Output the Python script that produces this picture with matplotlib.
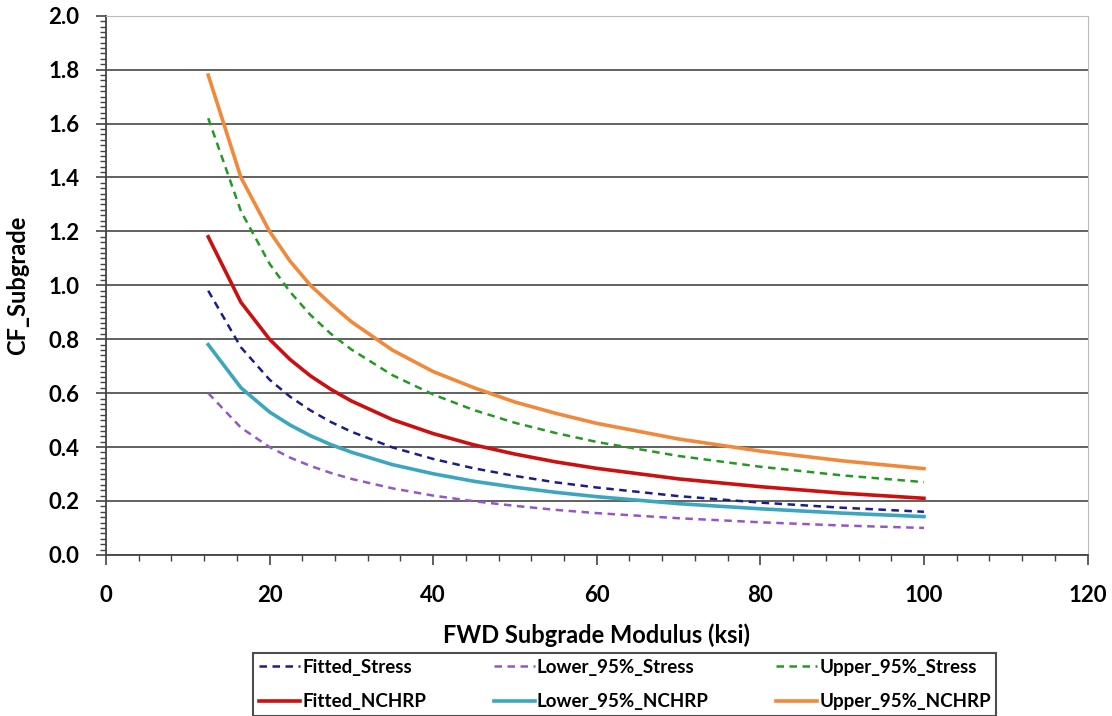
import matplotlib.pyplot as plt
from matplotlib.ticker import MultipleLocator

plt.rcParams['font.family'] = ['Lato', 'DejaVu Sans']

modulus = [12.5, 16.5, 20, 22.5, 25, 27.5, 30, 35, 40, 45, 50, 55, 60, 70, 80, 90, 100]

fitted_stress = [0.98, 0.77, 0.65, 0.587, 0.536, 0.493, 0.457, 0.399, 0.356, 0.321,
                 0.293, 0.269, 0.25, 0.218, 0.194, 0.175, 0.16]
lower_stress = [0.60, 0.472, 0.40, 0.361, 0.33, 0.304, 0.282, 0.247, 0.22, 0.199,
                0.182, 0.167, 0.155, 0.136, 0.121, 0.109, 0.10]
upper_stress = [1.62, 1.275, 1.08, 0.976, 0.89, 0.82, 0.762, 0.667, 0.595, 0.537,
                0.49, 0.452, 0.419, 0.367, 0.327, 0.295, 0.27]
fitted_nchrp = [1.18, 0.937, 0.80, 0.725, 0.664, 0.614, 0.571, 0.502, 0.45, 0.408,
                0.374, 0.345, 0.321, 0.282, 0.253, 0.229, 0.21]
lower_nchrp = [0.78, 0.62, 0.53, 0.482, 0.442, 0.409, 0.381, 0.335, 0.301, 0.273,
               0.251, 0.232, 0.216, 0.19, 0.171, 0.155, 0.142]
upper_nchrp = [1.78, 1.40, 1.20, 1.09, 1.00, 0.93, 0.865, 0.76, 0.68, 0.62,
               0.567, 0.525, 0.488, 0.43, 0.385, 0.349, 0.32]

fig = plt.figure(figsize=(11.12, 7.16), dpi=100)
fig.patch.set_facecolor('white')
ax = fig.add_axes([0.0953, 0.225, 0.8827, 0.753])

ax.yaxis.grid(True, color='#555555', linewidth=1.3)
ax.set_axisbelow(True)

dash = (3, 2.2)
ax.plot(modulus, fitted_stress, color='#1c1c8a', lw=1.8, dashes=dash, label='Fitted_Stress')
ax.plot(modulus, fitted_nchrp, color='#cc1010', lw=2.6, label='Fitted_NCHRP')
ax.plot(modulus, lower_stress, color='#9457c8', lw=1.8, dashes=dash, label='Lower_95%_Stress')
ax.plot(modulus, lower_nchrp, color='#3ca6bf', lw=2.6, label='Lower_95%_NCHRP')
ax.plot(modulus, upper_stress, color='#229a22', lw=1.8, dashes=dash, label='Upper_95%_Stress')
ax.plot(modulus, upper_nchrp, color='#f0893a', lw=2.6, label='Upper_95%_NCHRP')

ax.set_xlim(0, 120)
ax.set_ylim(0, 2.0)
ax.xaxis.set_major_locator(MultipleLocator(20))
ax.xaxis.set_minor_locator(MultipleLocator(4))
ax.yaxis.set_major_locator(MultipleLocator(0.2))
ax.yaxis.set_minor_locator(MultipleLocator(0.02))
ax.yaxis.set_major_formatter(plt.FormatStrFormatter('%.1f'))

for side in ['left', 'bottom']:
    ax.spines[side].set_color('#444444')
    ax.spines[side].set_linewidth(1.3)
ax.spines['top'].set_color('#bbbbbb')
ax.spines['right'].set_color('#bbbbbb')

ax.tick_params(axis='both', which='major', direction='out', length=7, width=1.2,
               color='#444444', labelsize=16)
ax.tick_params(axis='both', which='minor', direction='out', length=4, width=1.0,
               color='#444444')
ax.tick_params(axis='x', which='major', pad=15)
ax.tick_params(axis='y', which='major', pad=12)
for lab in ax.get_xticklabels() + ax.get_yticklabels():
    lab.set_fontweight('bold')

ax.set_xlabel('FWD Subgrade Modulus (ksi)', fontsize=17, fontweight='bold', labelpad=12)
ax.set_ylabel('CF_Subgrade', fontsize=17, fontweight='bold', labelpad=14)

leg = fig.legend(ncol=3, loc='upper center', bbox_to_anchor=(0.562, 0.088),
                 frameon=True, fancybox=False, shadow=False, fontsize=13.5,
                 handlelength=2.2, handletextpad=0.1, columnspacing=3.6,
                 borderpad=0.3, labelspacing=0.95, borderaxespad=0,
                 edgecolor='#222222')
leg.get_frame().set_linewidth(1.5)
for t in leg.get_texts():
    t.set_fontweight('bold')

fig.savefig('out.png', dpi=100)
